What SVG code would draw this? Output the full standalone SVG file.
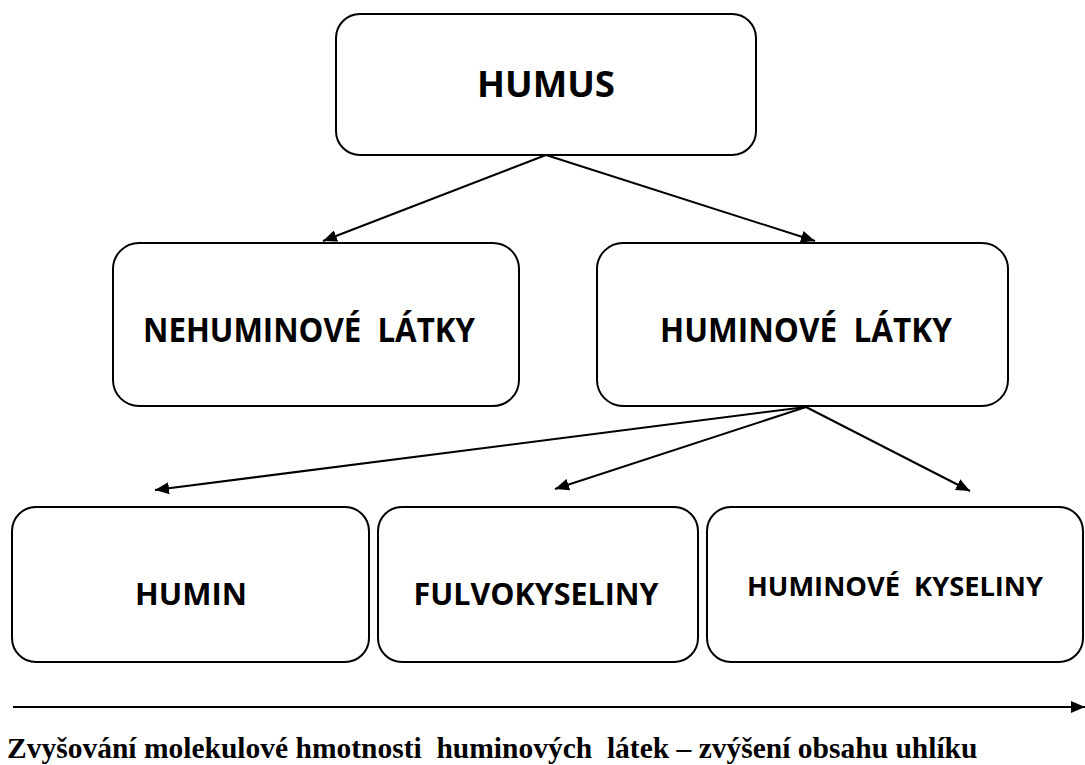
<svg xmlns="http://www.w3.org/2000/svg" width="1085" height="765" viewBox="0 0 1085 765">
<style>
.box{fill:#fff;stroke:#000;stroke-width:2}
.lbl{font-family:"Open Sans","Liberation Sans",sans-serif;font-weight:bold;fill:#000;text-anchor:middle;white-space:pre}
.cap{font-family:"Liberation Serif","Times New Roman",serif;font-weight:bold;fill:#000;white-space:pre}
.con{stroke:#000;stroke-width:2;fill:none}
</style>
<defs>
<marker id="ah" viewBox="0 0 14 12" refX="14" refY="6" markerWidth="14" markerHeight="12" markerUnits="userSpaceOnUse" orient="auto">
<path d="M0,0 L14,6 L0,12 Z" fill="#000"/>
</marker>
</defs>
<rect width="1085" height="765" fill="#fff"/>
<g id="connectors">
<line class="con" x1="546" y1="155" x2="323" y2="241" marker-end="url(#ah)"/>
<line class="con" x1="546" y1="155" x2="815" y2="241" marker-end="url(#ah)"/>
<line class="con" x1="806" y1="407" x2="155" y2="490" marker-end="url(#ah)"/>
<line class="con" x1="806" y1="407" x2="555" y2="489" marker-end="url(#ah)"/>
<line class="con" x1="806" y1="407" x2="970" y2="491" marker-end="url(#ah)"/>
<line class="con" x1="13" y1="707" x2="1085" y2="707" stroke-width="3" marker-end="url(#ah)"/>
</g>
<g id="humus">
<rect class="box" x="336" y="14" width="420" height="141" rx="24"/>
<text class="lbl" x="546" y="97" font-size="35" textLength="138" lengthAdjust="spacingAndGlyphs">HUMUS</text>
</g>
<g id="nehuminove">
<rect class="box" x="113" y="243" width="406" height="163" rx="26"/>
<text class="lbl" x="309" y="342" font-size="33.5" textLength="332" lengthAdjust="spacingAndGlyphs">NEHUMINOVÉ  LÁTKY</text>
</g>
<g id="huminove">
<rect class="box" x="597" y="243" width="411" height="163" rx="26"/>
<text class="lbl" x="806" y="342" font-size="33.5" textLength="292" lengthAdjust="spacingAndGlyphs">HUMINOVÉ  LÁTKY</text>
</g>
<g id="humin">
<rect class="box" x="12" y="507" width="357" height="155" rx="24"/>
<text class="lbl" x="191" y="605" font-size="31" textLength="112" lengthAdjust="spacingAndGlyphs">HUMIN</text>
</g>
<g id="fulvo">
<rect class="box" x="378" y="507" width="320" height="155" rx="24"/>
<text class="lbl" x="536" y="605" font-size="31" textLength="245" lengthAdjust="spacingAndGlyphs">FULVOKYSELINY</text>
</g>
<g id="huminkys">
<rect class="box" x="707" y="507" width="376" height="155" rx="24"/>
<text class="lbl" x="895" y="596" font-size="27" textLength="296" lengthAdjust="spacingAndGlyphs">HUMINOVÉ  KYSELINY</text>
</g>
<text class="cap" x="7" y="758" font-size="29.5">Zvyšování molekulové hmotnosti  huminových  látek – zvýšení obsahu uhlíku</text>
</svg>
